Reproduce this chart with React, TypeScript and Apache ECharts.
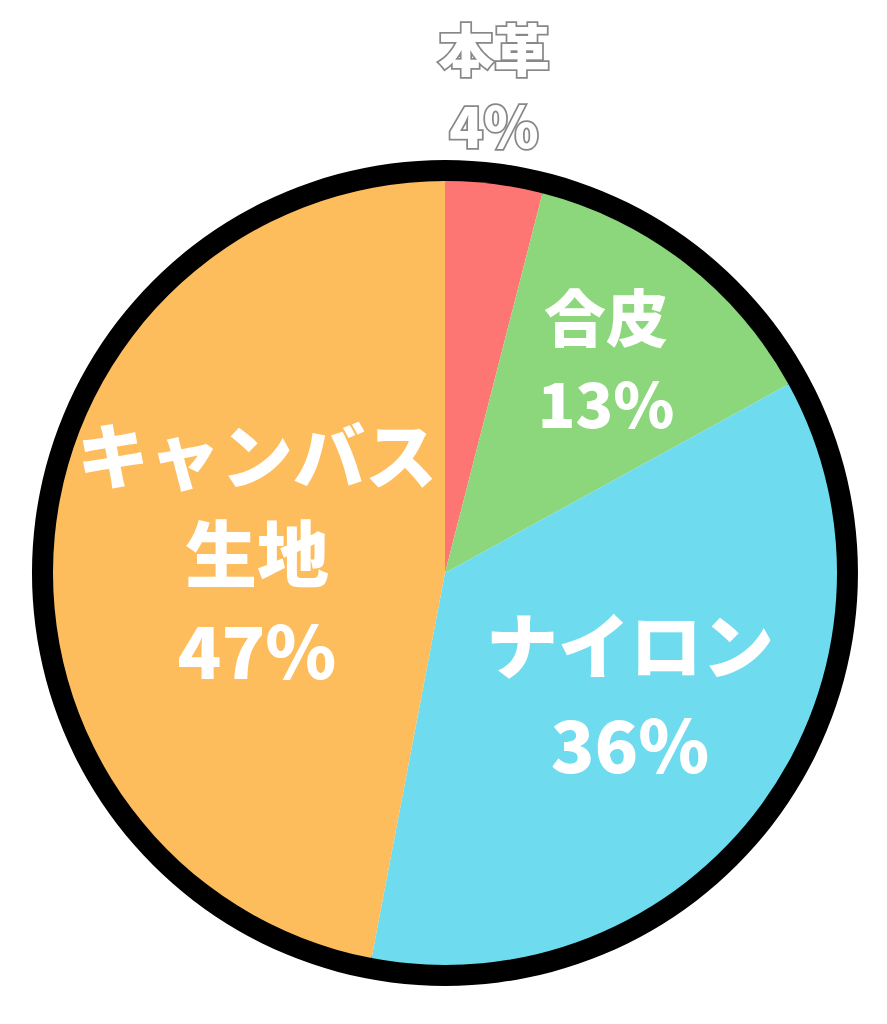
import React, { useEffect, useRef } from "react";
import * as echarts from "echarts";

const categories = ["本革", "合皮", "ナイロン", "キャンバス\n生地"];
const values = [4, 13, 36, 47];
const colors = ["#FE7673", "#8CD67C", "#6EDBEE", "#FDBD5D"];
// label styling per slice (size, line height, offset from default inside position)
const labelFontSizes = [56, 62, 72, 72];
const labelLineHeights = [77, 86, 100, 98];
const labelOffsets = [
  [24, -291],
  [39, -58],
  [24, 2],
  [10, -5],
];

export default function App() {
  const ref = useRef<HTMLDivElement>(null);
  useEffect(() => {
    if (!ref.current) return;
    const chart = echarts.init(ref.current, null, { renderer: "svg" });
    const data = categories.map((name, i) => ({
      name,
      value: values[i],
      itemStyle: { color: colors[i] },
      label:
        i === 0
          ? {
              color: "#ffffff",
              textBorderColor: "#888888",
              textBorderWidth: 3.5,
              fontSize: labelFontSizes[i],
              lineHeight: labelLineHeights[i],
            }
          : {
              fontSize: labelFontSizes[i],
              lineHeight: labelLineHeights[i],
            },
    }));
    chart.setOption({
      animation: false,
      backgroundColor: "#ffffff",
      series: [
        {
          type: "pie",
          silent: true,
          center: [445, 573],
          radius: [390, 413],
          startAngle: 90,
          data: [{ value: 1, name: "ring", itemStyle: { color: "#000000" } }],
          label: { show: false },
          labelLine: { show: false },
        },
        {
          type: "pie",
          center: [445, 573],
          radius: [0, 392],
          startAngle: 90,
          clockwise: true,
          avoidLabelOverlap: false,
          itemStyle: { borderWidth: 0 },
          label: {
            show: true,
            position: "inside",
            color: "#ffffff",
            fontFamily: "Noto Sans CJK JP",
            fontWeight: 900,
            formatter: (p: any) => `${p.name}\n${p.value}%`,
          },
          labelLine: { show: false },
          labelLayout: (p: any) => ({
            dx: labelOffsets[p.dataIndex][0],
            dy: labelOffsets[p.dataIndex][1],
          }),
          data,
        },
      ],
    });
    return () => chart.dispose();
  }, []);
  return (
    <div
      ref={ref}
      style={{ position: "fixed", left: 0, top: 0, width: 887, height: 1024 }}
    />
  );
}
